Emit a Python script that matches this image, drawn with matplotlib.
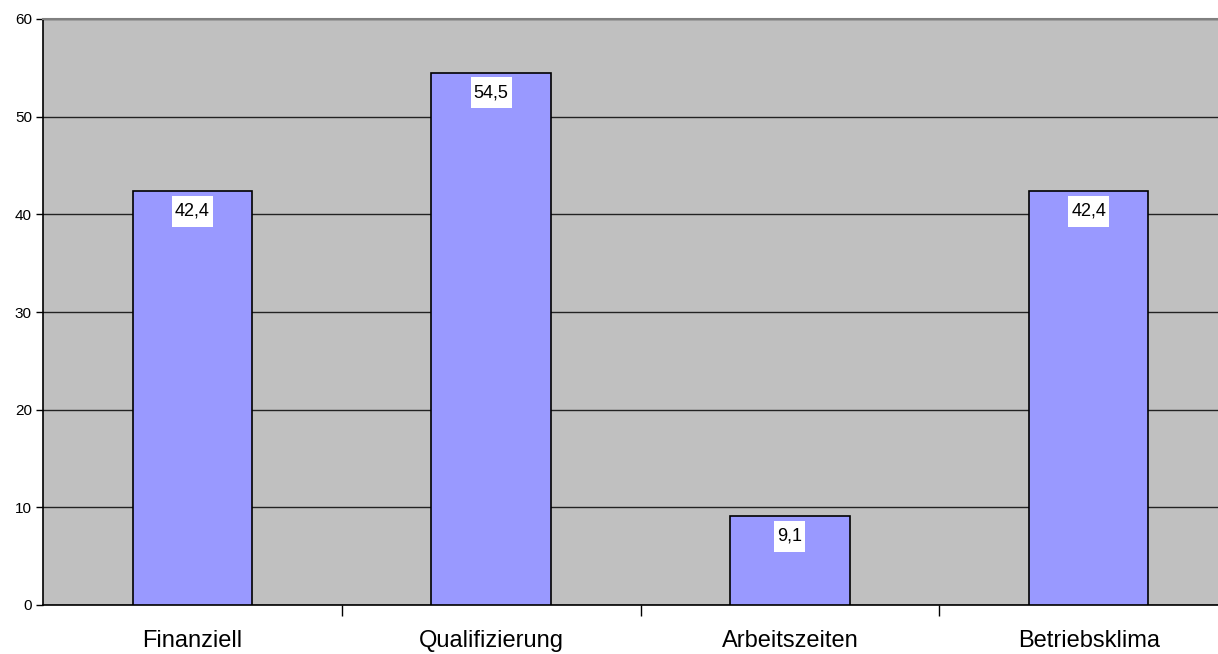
import matplotlib.pyplot as plt
from matplotlib.patches import Rectangle
import numpy as np

categories = ['Finanziell', 'Qualifizierung', 'Arbeitszeiten', 'Betriebsklima']
values = [42.4, 54.5, 9.1, 42.4]
labels = ['42,4', '54,5', '9,1', '42,4']
yticks = [0, 10, 20, 30, 40, 50, 60]

plt.rcParams['font.family'] = ['Liberation Sans', 'DejaVu Sans']

fig = plt.figure(figsize=(12.18, 6.54), dpi=100)
W, H = 1218, 654
ax = fig.add_axes([43 / W, 49 / H, (1238 - 43) / W, (605 - 19) / H])
ax.set_facecolor('#C0C0C0')

x = np.arange(len(categories))
bars = ax.bar(x, values, width=0.4, color='#9999FF', edgecolor='black', linewidth=1.2, zorder=3)

texts = []
for b, lab in zip(bars, labels):
    t = ax.annotate(lab, (b.get_x() + b.get_width() / 2, b.get_height()),
                    xytext=(0, -14.5), textcoords='offset points', ha='center', va='center',
                    fontsize=13, zorder=5)
    texts.append(t)

ax.set_xlim(-0.5, 3.5)
ax.set_ylim(0, 60)
ax.set_yticks(yticks)
ax.tick_params(axis='y', labelsize=11, length=5, width=1, pad=3)
ax.yaxis.grid(True, color='#222222', linewidth=1, zorder=1)
ax.set_axisbelow(True)

ax.set_xticks(x)
ax.set_xticklabels(categories, fontsize=17)
ax.tick_params(axis='x', length=0, pad=18)
ax.set_xticks(np.arange(0.5, 3.5, 1), minor=True)
ax.tick_params(axis='x', which='minor', length=8, width=1)

for s in ['left', 'bottom']:
    ax.spines[s].set_color('black')
    ax.spines[s].set_linewidth(1.2)
ax.spines['top'].set_color('#808080')
ax.spines['top'].set_linewidth(1.5)
ax.spines['right'].set_visible(False)

# white boxes behind the value labels (more vertical than horizontal padding)
fig.canvas.draw()
r = fig.canvas.get_renderer()
for t in texts:
    bb = t.get_window_extent(r)
    ax.add_patch(Rectangle(((bb.x0 - 3) / W, (bb.y0 - 7) / H),
                           (bb.width + 6) / W, (bb.height + 14) / H,
                           transform=fig.transFigure, facecolor='white',
                           edgecolor='none', zorder=4, clip_on=False))

fig.savefig('out.png', dpi=100)
